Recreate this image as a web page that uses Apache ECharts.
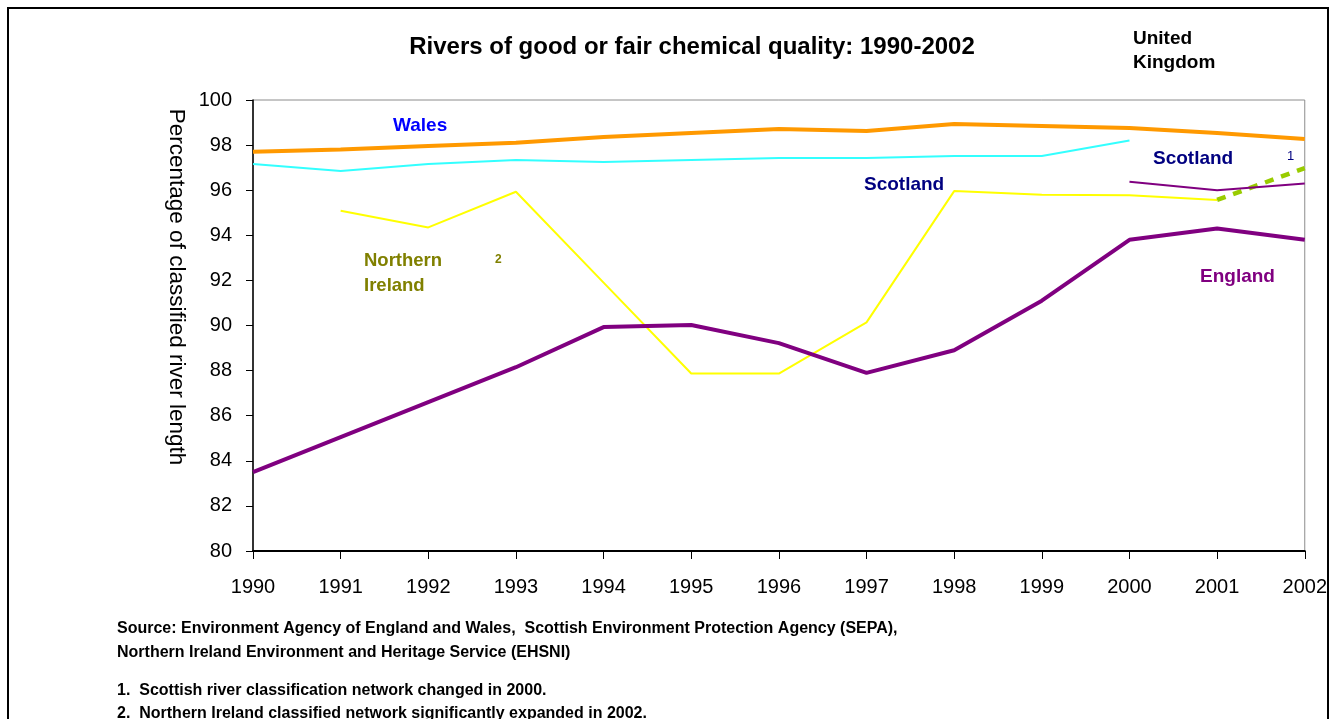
<!DOCTYPE html>
<html>
<head>
<meta charset="utf-8">
<script src="https://cdn.jsdelivr.net/npm/echarts@6/dist/echarts.min.js"></script>
<style>
html,body{margin:0;padding:0;background:#fff;}
#c{width:1330px;height:719px;}
</style>
</head>
<body>
<div id="c"></div>
<script>
const years = ['1990','1991','1992','1993','1994','1995','1996','1997','1998','1999','2000','2001','2002'];
const yTicks = [80, 82, 84, 86, 88, 90, 92, 94, 96, 98, 100];
const wales = [97.7, 97.8, 97.96, 98.1, 98.36, 98.54, 98.71, 98.63, 98.94, 98.85, 98.76, 98.54, 98.27];
const scotlandOld = [97.16, 96.85, 97.16, 97.34, 97.25, 97.34, 97.43, 97.43, 97.52, 97.52, 98.2, null, null];
const scotlandNew = [null, null, null, null, null, null, null, null, null, null, 96.38, 96.0, 96.3];
const northernIreland = [null, 95.09, 94.35, 95.93, 91.9, 87.87, 87.87, 90.14, 95.96, 95.8, 95.78, 95.57, null];
const northernIrelandExpanded = [null, null, null, null, null, null, null, null, null, null, null, 95.57, 96.98];
const england = [83.5, 85.05, 86.6, 88.15, 89.93, 90.02, 89.22, 87.9, 88.9, 91.1, 93.8, 94.3, 93.8];

const FONT = 'Liberation Sans, Arial, sans-serif';
const chart = echarts.init(document.getElementById('c'), null, {renderer: 'canvas'});

function lineSeries(name, data, color, width, type) {
  return {
    name: name, type: 'line', data: data, symbol: 'none', connectNulls: false,
    lineStyle: {color: color, width: width, type: type || 'solid', cap: 'butt'},
    emphasis: {disabled: true}, silent: true, animation: false
  };
}

function label(text, x, y, color, size, weight) {
  return {type: 'text', left: x, top: y, silent: true,
    style: {text: text, fill: color, font: (weight || 'bold') + ' ' + size + 'px ' + FONT}};
}

chart.setOption({
  animation: false,
  backgroundColor: '#fff',
  grid: {left: 253, right: 22, top: 100, bottom: 168, show: true, borderColor: '#8c8c8c', borderWidth: 1, backgroundColor: 'transparent'},
  xAxis: {
    type: 'category', data: years, boundaryGap: false,
    axisLine: {lineStyle: {color: '#000', width: 2}},
    axisTick: {show: true, alignWithLabel: true, length: 8, lineStyle: {color: '#000', width: 1}},
    axisLabel: {color: '#000', fontSize: 20, fontFamily: FONT, margin: 26},
    splitLine: {show: false}
  },
  yAxis: {
    type: 'value', min: yTicks[0], max: yTicks[yTicks.length - 1], interval: 2,
    axisLine: {show: true, lineStyle: {color: '#000', width: 1.5}},
    axisTick: {show: true, length: 7, lineStyle: {color: '#000', width: 1}},
    axisLabel: {color: '#000', fontSize: 20, fontFamily: FONT, margin: 21},
    splitLine: {show: false}
  },
  series: [
    lineSeries('Scotland (old network)', scotlandOld, '#33ffff', 2),
    lineSeries('Northern Ireland', northernIreland, '#ffff00', 2),
    lineSeries('Northern Ireland (expanded network)', northernIrelandExpanded, '#99cc00', 4.5, [9, 8]),
    lineSeries('Scotland (new network)', scotlandNew, '#800080', 2),
    lineSeries('Wales', wales, '#ff9900', 4),
    lineSeries('England', england, '#800080', 4)
  ],
  graphic: [
    {type: 'rect', silent: true, shape: {x: 8, y: 8, width: 1320, height: 730},
      style: {fill: 'none', stroke: '#000', lineWidth: 2}},
    {type: 'text', x: 692, y: 47, silent: true,
      style: {text: 'Rivers of good or fair chemical quality: 1990-2002', fill: '#000', font: 'bold 24px ' + FONT, align: 'center', verticalAlign: 'middle'}},
    {type: 'text', x: 176, y: 287, rotation: -Math.PI / 2, silent: true,
      style: {text: 'Percentage of classified river length', fill: '#000', font: '22.5px ' + FONT, align: 'center', verticalAlign: 'middle'}},
    label('United', 1133, 29, '#000', 19),
    label('Kingdom', 1133, 53, '#000', 19),
    label('Wales', 393, 116, '#0000ff', 19),
    label('Scotland', 864, 175, '#000080', 19),
    label('Scotland', 1153, 149, '#000080', 19),
    label('1', 1287, 150, '#000080', 13, 'normal'),
    label('Northern', 364, 251, '#808000', 18.5),
    label('Ireland', 364, 276, '#808000', 18.5),
    label('2', 495, 254, '#808000', 12),
    label('England', 1200, 267, '#800080', 19),
    label('Source: Environment Agency of England and Wales,  Scottish Environment Protection Agency (SEPA),', 117, 621, '#000', 16),
    label('Northern Ireland Environment and Heritage Service (EHSNI)', 117, 645, '#000', 16),
    label('1.  Scottish river classification network changed in 2000.', 117, 683, '#000', 16),
    label('2.  Northern Ireland classified network significantly expanded in 2002.', 117, 706, '#000', 16)
  ]
});
</script>
</body>
</html>
